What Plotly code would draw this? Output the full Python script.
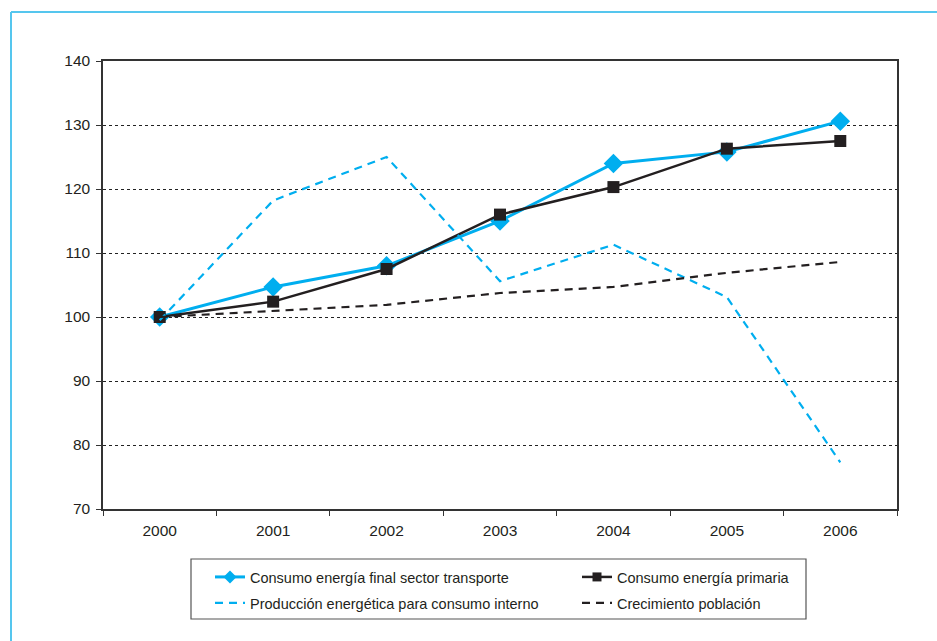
import plotly.graph_objects as go

years = ["2000", "2001", "2002", "2003", "2004", "2005", "2006"]
transporte = [100.0, 104.7, 108.0, 115.0, 124.0, 125.8, 130.6]
primaria = [100.0, 102.4, 107.5, 116.0, 120.3, 126.3, 127.5]
produccion = [99.5, 118.2, 125.0, 105.6, 111.3, 103.1, 77.3]
poblacion = [100.0, 100.9, 101.9, 103.75, 104.7, 106.9, 108.6]

names = [
    "Consumo energía final sector transporte",
    "Consumo energía primaria",
    "Producción energética para consumo interno",
    "Crecimiento población",
]

BLUE = "#00AEEF"
DARK = "#231F20"
FRAME = "#55C6EE"

W, H = 937, 641
L, R, T, B = 103, 897, 61, 509
pw, ph = R - L, B - T


def px(x):
    return (x - L) / pw


def py(y):
    return (B - y) / ph


series = [
    (transporte, names[0], dict(color=BLUE, width=3), dict(symbol="diamond", size=15, color=BLUE), 10, "legend"),
    (primaria, names[1], dict(color=DARK, width=2.5), dict(symbol="square", size=12, color=DARK), 9, "legend2"),
    (produccion, names[2], dict(color=BLUE, width=2.2, dash="8px,6px"), None, 0, "legend3"),
    (poblacion, names[3], dict(color=DARK, width=2.2, dash="8px,6px"), None, 0, "legend4"),
]

fig = go.Figure()
for vals, name, line, marker, lsize, leg in series:
    mode = "lines+markers" if marker else "lines"
    fig.add_trace(go.Scatter(x=years, y=vals, name=name, mode=mode, line=line,
                             marker=marker, showlegend=False))
    # legend entry with a smaller symbol, as in the original
    lmarker = dict(marker, size=lsize) if marker else None
    fig.add_trace(go.Scatter(x=[None], y=[None], name=name, mode=mode, line=line,
                             marker=lmarker, legend=leg, showlegend=True,
                             hoverinfo="skip"))

font = dict(family="Liberation Sans, Arial, sans-serif", color=DARK)
leg_common = dict(orientation="h", xanchor="left", yanchor="middle",
                  font=dict(size=14.5, **font), bgcolor="rgba(0,0,0,0)",
                  borderwidth=0, itemclick=False, itemdoubleclick=False)

col1, col2 = 210, 577
row1, row2 = 577, 603

fig.update_layout(
    width=W, height=H,
    showlegend=True,
    margin=dict(l=L, r=W - R, t=T, b=H - B),
    paper_bgcolor="white", plot_bgcolor="white",
    font=dict(size=15, **font),
    xaxis=dict(type="category", range=[-0.5, 6.5], showgrid=False,
               tickson="boundaries", ticks="outside", ticklen=5, tickcolor="#333",
               ticklabelstandoff=7,
               showline=True, mirror=True, linecolor="#333", linewidth=1.5,
               tickfont=dict(size=15.5, **font), fixedrange=True),
    yaxis=dict(range=[70, 140], dtick=10, tick0=70, showgrid=True,
               gridcolor="#222", griddash="dot", gridwidth=1,
               ticks="outside", ticklen=5, tickcolor="#333",
               ticklabelstandoff=3,
               showline=True, mirror=True, linecolor="#333", linewidth=1.5,
               zeroline=False, tickfont=dict(size=15.5, **font), fixedrange=True),
    legend=dict(x=px(col1), y=py(row1), **leg_common),
    legend2=dict(x=px(col2), y=py(row1), **leg_common),
    legend3=dict(x=px(col1), y=py(row2), **leg_common),
    legend4=dict(x=px(col2), y=py(row2), **leg_common),
    shapes=[
        dict(type="rect", xref="paper", yref="paper",
             x0=px(191), x1=px(806), y0=py(619), y1=py(559),
             line=dict(color="#555", width=1.2), fillcolor="rgba(0,0,0,0)"),
        dict(type="line", xref="paper", yref="paper",
             x0=px(11), x1=px(960), y0=py(12), y1=py(12),
             line=dict(color=FRAME, width=2)),
        dict(type="line", xref="paper", yref="paper",
             x0=px(11), x1=px(11), y0=py(12), y1=py(680),
             line=dict(color=FRAME, width=2)),
    ],
)

fig.write_html("out.html")
